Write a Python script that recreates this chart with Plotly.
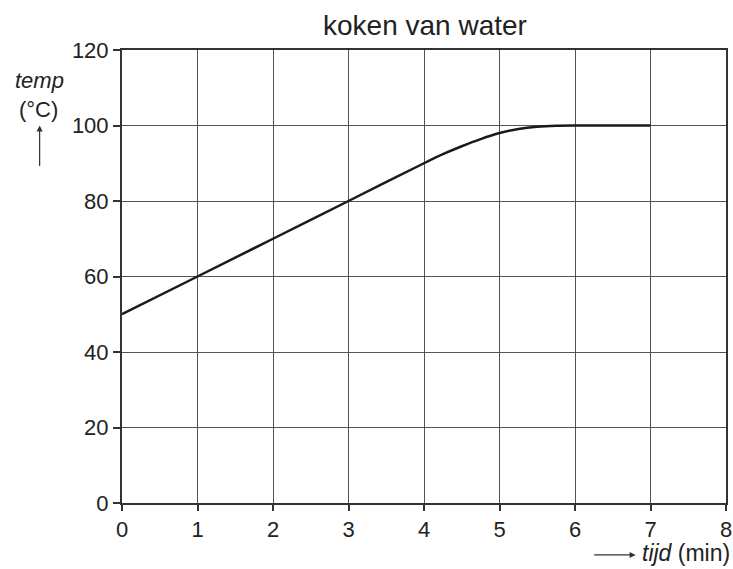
import plotly.graph_objects as go

tijd = [0, 1, 2, 3, 4, 4.25, 4.5, 4.75, 5, 5.25, 5.5, 5.75, 6, 7]
temp = [50, 60, 70, 80, 90, 92.4, 94.5, 96.4, 98.0, 99.1, 99.7, 99.95, 100, 100]
x_ticks = [0, 1, 2, 3, 4, 5, 6, 7, 8]
y_ticks = [0, 20, 40, 60, 80, 100, 120]

FONT = "Liberation Sans, Arial, sans-serif"

fig = go.Figure()
fig.add_trace(go.Scatter(x=tijd, y=temp, mode="lines",
                         line=dict(color="#1a1a1a", width=2.5, shape="spline", smoothing=0.6),
                         hoverinfo="skip", showlegend=False))

W, H = 733, 569
L, R, T, B = 121.5, 6.5, 49.5, 66
pw = W - L - R
ph = H - T - B

def px(x):
    return (x - L) / pw

def py(y):
    return (H - B - y) / ph

fig.update_layout(
    width=W, height=H,
    margin=dict(l=L, r=R, t=T, b=B, autoexpand=False),
    plot_bgcolor="white", paper_bgcolor="white",
    font=dict(family=FONT, size=22, color="#222"),
    title=dict(text="koken van water", x=425 / W, xanchor="center",
               y=1 - 25 / H, yanchor="middle",
               font=dict(size=28, color="#222")),
    xaxis=dict(range=[0, 8], tickvals=x_ticks, ticktext=[str(v) for v in x_ticks],
               showgrid=True, gridcolor="#555", gridwidth=1, zeroline=False,
               showline=True, linecolor="#333", linewidth=2, mirror=True,
               ticks="outside", ticklen=6, tickcolor="#333", tickwidth=2,
               tickfont=dict(size=22, color="#222")),
    yaxis=dict(range=[0, 120], tickvals=y_ticks, ticktext=[str(v) for v in y_ticks],
               showgrid=True, gridcolor="#555", gridwidth=1, zeroline=False,
               showline=True, linecolor="#333", linewidth=2, mirror=True,
               ticks="outside", ticklen=7, tickcolor="#333", tickwidth=2,
               tickfont=dict(size=22, color="#222")),
)

ann = [
    dict(x=px(39), y=py(80), xref="paper", yref="paper", text="<i>temp</i>",
         showarrow=False, xanchor="center", yanchor="middle", font=dict(size=22, color="#222")),
    dict(x=px(38), y=py(109), xref="paper", yref="paper", text="(°C)",
         showarrow=False, xanchor="center", yanchor="middle", font=dict(size=22, color="#222")),
    dict(x=px(39), y=py(125), xref="paper", yref="paper", text="",
         showarrow=True, ax=0, ay=42, arrowhead=2, arrowsize=1, arrowwidth=1.2, arrowcolor="#333"),
    dict(x=px(636), y=py(555), xref="paper", yref="paper", text="",
         showarrow=True, ax=-43, ay=0, arrowhead=2, arrowsize=1, arrowwidth=1.2, arrowcolor="#333"),
    dict(x=px(640), y=py(553), xref="paper", yref="paper", text="<i>tijd</i> (min)",
         showarrow=False, xanchor="left", yanchor="middle", font=dict(size=23, color="#222")),
]
fig.update_layout(annotations=ann)

fig.write_html("out.html", config={"displayModeBar": False},
               post_script="document.body.style.margin='0';document.body.style.overflow='hidden';")
